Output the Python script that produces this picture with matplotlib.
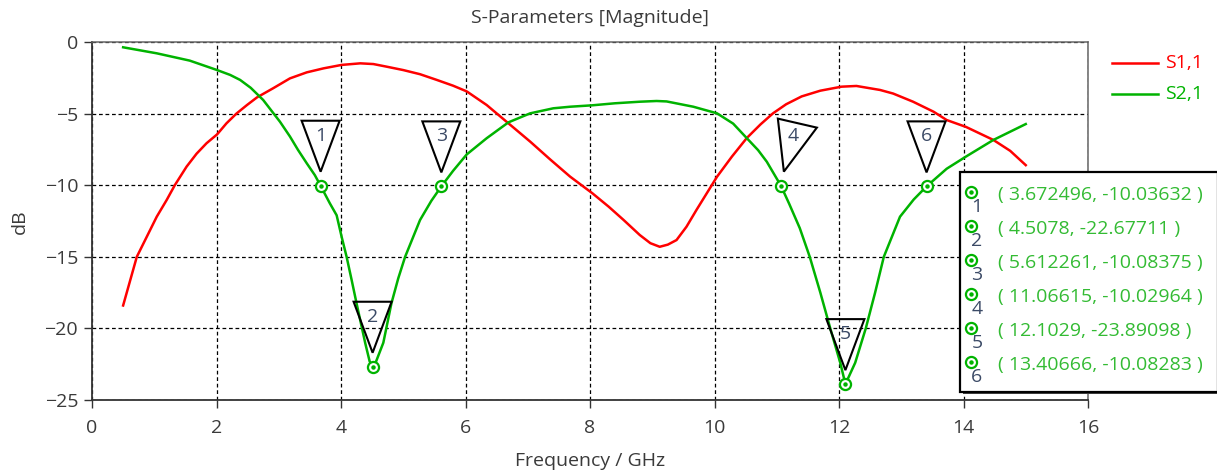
import matplotlib
matplotlib.use('Agg')
import matplotlib.pyplot as plt
import matplotlib.transforms as mtransforms
from matplotlib.patches import Polygon, Rectangle
from matplotlib.lines import Line2D

plt.rcParams['font.family'] = ['Open Sans', 'DejaVu Sans']
plt.rcParams['font.size'] = 14

# --------------------------------------------------------------------------------
# DATA
# --------------------------------------------------------------------------------
s11_freq = [0.5, 0.72, 0.88, 1.04, 1.2, 1.33, 1.52, 1.68, 1.84, 2.01, 2.16, 2.32,
            2.49, 2.65, 2.91, 3.18, 3.45, 3.72, 4.01, 4.31, 4.52, 4.73, 5.0, 5.27,
            5.54, 5.8, 6.02, 6.34, 6.66, 7.04, 7.36, 7.68, 8.04, 8.3, 8.54, 8.8,
            8.97, 9.12, 9.25, 9.39, 9.55, 9.71, 10.04, 10.28, 10.52, 10.74, 10.94,
            11.15, 11.4, 11.7, 12.04, 12.28, 12.66, 12.87, 13.19, 13.52, 13.73,
            14.04, 14.48, 14.75, 15.0]
s11_db = [-18.4, -15.0, -13.6, -12.2, -11.03, -10.0, -8.7, -7.8, -7.07, -6.45, -5.68,
          -5.0, -4.4, -3.87, -3.23, -2.54, -2.12, -1.84, -1.6, -1.49, -1.54, -1.72,
          -1.96, -2.25, -2.65, -3.05, -3.45, -4.4, -5.57, -6.96, -8.2, -9.4, -10.57,
          -11.5, -12.43, -13.48, -14.05, -14.3, -14.15, -13.83, -12.9, -11.73,
          -9.41, -8.0, -6.7, -5.75, -4.98, -4.35, -3.8, -3.4, -3.12, -3.07, -3.35,
          -3.6, -4.17, -4.87, -5.45, -5.93, -6.84, -7.6, -8.6]

s21_freq = [0.5, 1.04, 1.57, 2.01, 2.22, 2.38, 2.55, 2.75, 3.02, 3.18, 3.31, 3.45,
            3.58, 3.672, 3.82, 3.93, 4.01, 4.09, 4.17, 4.25, 4.39, 4.46, 4.508, 4.56,
            4.68, 4.81, 4.92, 5.03, 5.27, 5.45, 5.612, 5.8, 6.02, 6.34, 6.69, 7.04,
            7.41, 7.68, 8.04, 8.4, 8.8, 9.07, 9.23, 9.66, 10.04, 10.3, 10.52, 10.7,
            10.84, 11.066, 11.2, 11.37, 11.53, 11.7, 11.86, 12.02, 12.103, 12.26,
            12.43, 12.58, 12.72, 12.98, 13.2, 13.407, 13.73, 14.04, 14.48, 15.0]
s21_db = [-0.37, -0.79, -1.3, -1.96, -2.3, -2.65, -3.2, -4.05, -5.57, -6.6, -7.54,
          -8.47, -9.3, -10.04, -11.26, -12.1, -13.6, -15.0, -16.6, -18.25, -21.04,
          -22.3, -22.68, -22.35, -21.0, -18.25, -16.5, -15.0, -12.43, -11.1, -10.08,
          -9.0, -7.85, -6.72, -5.61, -4.98, -4.63, -4.52, -4.42, -4.28, -4.17, -4.12,
          -4.15, -4.52, -4.98, -5.7, -6.72, -7.55, -8.36, -10.03, -11.3, -13.0,
          -15.0, -17.5, -20.0, -22.4, -23.89, -22.4, -20.0, -17.5, -15.0, -12.2,
          -11.0, -10.08, -8.85, -8.0, -6.84, -5.73]

marker_ids = ['1', '2', '3', '4', '5', '6']
marker_freq = [3.672496, 4.5078, 5.612261, 11.06615, 12.1029, 13.40666]
marker_db = [-10.03632, -22.67711, -10.08375, -10.02964, -23.89098, -10.08283]

series_names = ['S1,1', 'S2,1']
x_ticks = [0, 2, 4, 6, 8, 10, 12, 14, 16]
y_ticks = [-25, -20, -15, -10, -5, 0]

RED = '#ff0000'
GREEN = '#00b300'
NUM = '#3b4a66'
TXT = '#3a3a3a'

W, H = 1217, 474
fig = plt.figure(figsize=(W / 100, H / 100), dpi=100)
ax = fig.add_axes([92 / W, 1 - 400 / H, 996 / W, 358 / H])

ax.plot(s11_freq, s11_db, color=RED, lw=1.8, zorder=3)
ax.plot(s21_freq, s21_db, color=GREEN, lw=1.8, zorder=3)

ax.set_xlim(0, 16)
ax.set_ylim(-25, 0)
ax.set_xticks(x_ticks)
ax.set_yticks(y_ticks)
ax.grid(True, color='black', linestyle=(0, (3, 2.2)), linewidth=0.9)
ax.tick_params(direction='out', length=6, width=1, colors='#333333',
               labelcolor=TXT, labelsize=14)
ax.tick_params(axis='x', pad=8)
ax.tick_params(axis='y', pad=4)
for side in ['left', 'bottom']:
    ax.spines[side].set_color('#333333')
    ax.spines[side].set_linewidth(1.3)
for side in ['top', 'right']:
    ax.spines[side].set_color('#666666')
    ax.spines[side].set_linewidth(1.1)

# marker circles
ax.plot(marker_freq, marker_db, 'o', ms=8, mfc='white', mec=GREEN, mew=1.6, zorder=5)
ax.plot(marker_freq, marker_db, 'o', ms=2.2, color=GREEN, zorder=6)

# triangle flags above the markers (pixel offsets)
tri_std = [(0, 14), (-19, 65), (19, 65)]
tri_tilt = [(3, 14), (-3, 67), (36, 58)]
for mid, fx, fy in zip(marker_ids, marker_freq, marker_db):
    trans = fig.dpi_scale_trans + mtransforms.ScaledTranslation(fx, fy, ax.transData)
    verts = tri_tilt if mid == '4' else tri_std
    ax.add_patch(Polygon([(vx / 100, vy / 100) for vx, vy in verts], closed=True,
                         fill=False, edgecolor='black', lw=1.5, transform=trans,
                         clip_on=False, zorder=7))
    tx = 12 if mid == '4' else 0
    ax.text(tx / 100, 50 / 100, mid, transform=trans, ha='center', va='center',
            color=NUM, fontsize=14, zorder=8)

# titles
fig.text(590 / W, 1 - 18 / H, 'S-Parameters [Magnitude]', ha='center', va='center',
         color=TXT, fontsize=14)
fig.text(590 / W, 1 - 461 / H, 'Frequency / GHz', ha='center', va='center',
         color=TXT, fontsize=14)
fig.text(20 / W, 1 - 222 / H, 'dB', ha='center', va='center', rotation=90,
         color=TXT, fontsize=14)

# legend on the right
for i, (name, col) in enumerate(zip(series_names, [RED, GREEN])):
    yy = 1 - (63 + 31 * i) / H
    fig.add_artist(Line2D([1112 / W, 1158 / W], [yy, yy], color=col, lw=1.8,
                          transform=fig.transFigure))
    fig.text(1165 / W, yy, name, color=col, ha='left', va='center', fontsize=14)

# marker readout box
fig.add_artist(Rectangle((963 / W, 1 - 394 / H), 258 / W, 220 / H,
                         transform=fig.transFigure, facecolor='#444444',
                         edgecolor='none', zorder=9))
fig.add_artist(Rectangle((960 / W, 1 - 392 / H), 258 / W, 220 / H,
                         transform=fig.transFigure, facecolor='white',
                         edgecolor='black', lw=1.6, zorder=10))
for i, (mid, fx, fy) in enumerate(zip(marker_ids, marker_freq, marker_db)):
    cy = 192 + 34 * i
    fig.add_artist(Line2D([970.5 / W], [1 - cy / H], marker='o', ms=8, mfc='white',
                          mec=GREEN, mew=1.6, transform=fig.transFigure, zorder=11))
    fig.add_artist(Line2D([970.5 / W], [1 - cy / H], marker='o', ms=2.2, color=GREEN,
                          transform=fig.transFigure, zorder=12))
    fig.text(977 / W, 1 - (cy + 15) / H, mid, color=NUM, ha='center', va='center',
             fontsize=14, zorder=12)
    fig.text(998 / W, 1 - (cy + 3) / H, f'( {fx}, {fy} )', color='#33bb33',
             ha='left', va='center', fontsize=14, zorder=12)

fig.savefig('out.png', dpi=100)
